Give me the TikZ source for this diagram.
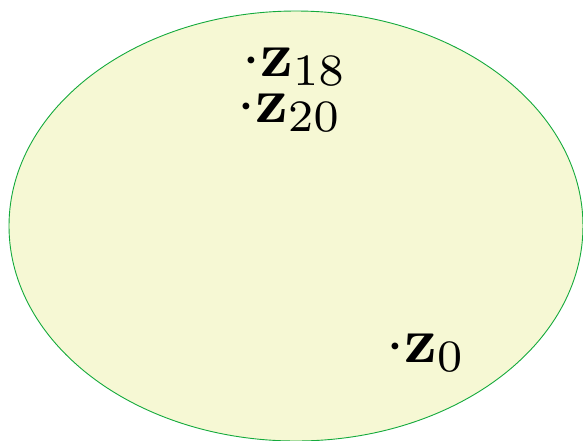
\documentclass[tikz,border=0pt]{standalone}
\usepackage{amsmath,amssymb}
\usetikzlibrary{positioning}
\definecolor{setgreen}{RGB}{20,170,60}
\definecolor{setfill}{RGB}{246,248,212}

\begin{document}
\begin{tikzpicture}[x=0.16667pt,y=-0.16667pt,every node/.style={inner sep=0pt,anchor=base west,scale=1.07}]
    \useasboundingbox (0,0) rectangle (583,441);
    \draw[setgreen,fill=setfill,line width=0.15pt] (296,226) ellipse [x radius=287,y radius=215];
    \node (z18) at (241,76) {$\cdot\mathbf{z}_{18}$};
    \node (z20) at (236,122) {$\cdot\mathbf{z}_{20}$};
    \node (z0) at (385,362) {$\cdot\mathbf{z}_{0}$};
  \end{tikzpicture}
\end{document}
